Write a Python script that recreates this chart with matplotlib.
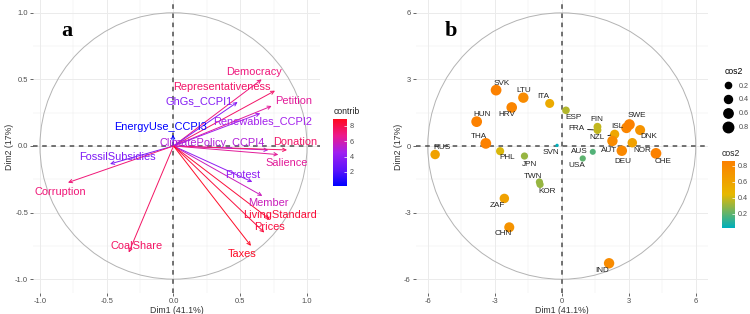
import numpy as np
import matplotlib
matplotlib.use('Agg')
import matplotlib.pyplot as plt
from matplotlib.colors import LinearSegmentedColormap, Normalize
from matplotlib.patches import Circle
from matplotlib.lines import Line2D

plt.rcParams['font.family'] = ['Liberation Sans', 'DejaVu Sans']

# 變數 (panel a)
var_names = ['Democracy', 'Representativeness', 'Petition', 'GhGs_CCPI1', 'Renewables_CCPI2',
             'EnergyUse_CCPI3', 'ClimatePolicy_CCPI4', 'Donation', 'Salience', 'FossilSubsidies',
             'Corruption', 'Protest', 'Member', 'LivingStandard', 'Prices', 'Taxes', 'CoalShare']
var_dim1 = [0.66, 0.76, 0.735, 0.48, 0.65, -0.005, 0.71, 0.85, 0.785, -0.475,
            -0.79, 0.59, 0.665, 0.72, 0.68, 0.58, -0.335]
var_dim2 = [0.50, 0.415, 0.30, 0.33, 0.245, 0.085, -0.03, -0.03, -0.065, -0.135,
            -0.275, -0.27, -0.375, -0.55, -0.65, -0.75, -0.80]
var_contrib = [7.0, 7.4, 6.4, 3.6, 4.6, 0.2, 5.0, 7.4, 6.4, 3.4,
               7.1, 4.0, 5.7, 8.3, 8.2, 8.7, 7.5]

# 國家 (panel b)
countries = ['RUS', 'THA', 'HUN', 'SVK', 'HRV', 'LTU', 'ITA', 'ESP', 'FIN', 'FRA', 'NZL', 'ISL',
             'SWE', 'DNK', 'AUT', 'NOR', 'DEU', 'CHE', 'SVN', 'AUS', 'USA', 'PHL', 'JPN',
             'TWN', 'KOR', 'ZAF', 'CHN', 'IND']
ind_dim1 = [-5.67, -3.40, -3.81, -2.94, -2.24, -1.72, -0.54, 0.19, 1.60, 1.60, 2.37, 2.90,
            3.03, 3.51, 2.27, 3.16, 2.69, 4.22, -0.21, 1.39, 0.94, -2.76, -1.67,
            -1.00, -0.97, -2.57, -2.35, 2.12]
ind_dim2 = [-0.38, 0.12, 1.10, 2.52, 1.74, 2.18, 1.92, 1.61, 0.87, 0.72, 0.53, 0.82,
            0.97, 0.72, 0.23, 0.15, -0.21, -0.33, 0.03, -0.26, -0.56, -0.23, -0.45,
            -1.62, -1.73, -2.36, -3.66, -5.28]
ind_cos2 = [0.62, 0.85, 0.85, 0.85, 0.82, 0.78, 0.55, 0.35, 0.38, 0.38, 0.58, 0.82,
            0.85, 0.72, 0.78, 0.62, 0.80, 0.85, 0.02, 0.18, 0.20, 0.42, 0.30,
            0.30, 0.30, 0.62, 0.72, 0.78]

# 標籤位置
var_lab = {
    'Democracy': (0.60, 0.555), 'Representativeness': (0.36, 0.44), 'Petition': (0.90, 0.34),
    'GhGs_CCPI1': (0.19, 0.34), 'Renewables_CCPI2': (0.67, 0.185), 'EnergyUse_CCPI3': (-0.095, 0.14),
    'ClimatePolicy_CCPI4': (0.29, 0.02), 'Donation': (0.91, 0.03), 'Salience': (0.85, -0.13),
    'FossilSubsidies': (-0.42, -0.085), 'Corruption': (-0.85, -0.345), 'Protest': (0.52, -0.22),
    'Member': (0.71, -0.43), 'LivingStandard': (0.80, -0.52), 'Prices': (0.72, -0.61),
    'Taxes': (0.515, -0.81), 'CoalShare': (-0.28, -0.75)}
ind_lab = {
    'RUS': (-5.37, -0.08), 'THA': (-3.69, 0.45), 'HUN': (-3.56, 1.40), 'SVK': (-2.69, 2.82),
    'HRV': (-2.46, 1.40), 'LTU': (-1.72, 2.49), 'ITA': (-0.84, 2.22), 'ESP': (0.51, 1.27),
    'FIN': (1.55, 1.20), 'FRA': (0.64, 0.77), 'NZL': (1.57, 0.37), 'ISL': (2.49, 0.86),
    'SWE': (3.37, 1.38), 'DNK': (3.91, 0.41), 'AUT': (2.13, -0.19), 'NOR': (3.63, -0.18),
    'DEU': (2.76, -0.68), 'CHE': (4.55, -0.71), 'SVN': (-0.48, -0.30), 'AUS': (0.77, -0.26),
    'USA': (0.67, -0.89), 'PHL': (-2.45, -0.51), 'JPN': (-1.46, -0.81), 'TWN': (-1.30, -1.35),
    'KOR': (-0.67, -2.06), 'ZAF': (-2.87, -2.66), 'CHN': (-2.62, -3.96), 'IND': (1.79, -5.59)}
seg_lab = ['FRA', 'NZL']

W, H = 750, 314
fig = plt.figure(figsize=(7.5, 3.14), dpi=100)
ax1 = fig.add_axes([33 / W, 21 / H, 287 / W, 293 / H])
ax2 = fig.add_axes([415.7 / W, 21 / H, 292.3 / W, 293 / H])

grid_c = '#EBEBEB'
tick_c = '#4D4D4D'


def base_axes(ax, xlim, ylim, major, minor, labels, r):
    ax.set_xlim(*xlim)
    ax.set_ylim(*ylim)
    for v in minor:
        ax.axvline(v, color=grid_c, lw=0.35, zorder=0)
        ax.axhline(v, color=grid_c, lw=0.35, zorder=0)
    for v in major:
        ax.axvline(v, color=grid_c, lw=0.7, zorder=0)
        ax.axhline(v, color=grid_c, lw=0.7, zorder=0)
    ax.set_xticks(major)
    ax.set_yticks(major)
    ax.set_xticklabels(labels)
    ax.set_yticklabels(labels)
    ax.tick_params(labelsize=5.4, colors=tick_c, length=2, width=0.6, pad=1.5)
    for s in ax.spines.values():
        s.set_visible(False)
    ax.add_patch(Circle((0, 0), r, fill=False, ec='#B3B3B3', lw=0.7, zorder=1))
    ax.axhline(0, color='#4D4D4D', lw=1.1, ls=(0, (3, 3)), zorder=2)
    ax.axvline(0, color='#4D4D4D', lw=1.1, ls=(0, (3, 3)), zorder=2)
    ax.set_xlabel('Dim1 (41.1%)', fontsize=6.3, color='#333333', labelpad=1)
    ax.set_ylabel('Dim2 (17%)', fontsize=6.3, color='#333333', labelpad=1)


base_axes(ax1, (-1.052, 1.097), (-1.104, 1.096), [-1, -0.5, 0, 0.5, 1],
          [-0.75, -0.25, 0.25, 0.75], ['-1.0', '-0.5', '0.0', '0.5', '1.0'], 1)
base_axes(ax2, (-6.54, 6.55), (-6.62, 6.58), [-6, -3, 0, 3, 6],
          [-4.5, -1.5, 1.5, 4.5], ['-6', '-3', '0', '3', '6'], 6)

# panel a
cmap1 = LinearSegmentedColormap.from_list(
    'contrib', [(0, '#0000FF'), (0.25, '#6015FA'), (0.5, '#A020F0'),
                (0.75, '#EC1A8C'), (1, '#FF0A1E')])
norm1 = Normalize(0.17, 8.87)
for name, x, y, c in zip(var_names, var_dim1, var_dim2, var_contrib):
    col = cmap1(norm1(c))
    ax1.annotate('', xy=(x, y), xytext=(0, 0),
                 arrowprops=dict(arrowstyle='->', color=col, lw=0.7, shrinkA=0, shrinkB=0,
                                 mutation_scale=6), zorder=3)
    lx, ly = var_lab[name]
    ax1.text(lx, ly, name, color=col, fontsize=7.9, ha='center', va='center', zorder=4)

ax1.text(-0.8, 0.86, 'a', fontsize=16, fontweight='bold', family='Liberation Serif',
         ha='center', va='center')

cax1 = fig.add_axes([333.3 / W, 1 - 186 / H, 13.4 / W, 67 / H])
cb1 = fig.colorbar(plt.cm.ScalarMappable(norm=norm1, cmap=cmap1), cax=cax1, ticks=[2, 4, 6, 8])
cb1.outline.set_visible(False)
cb1.ax.tick_params(labelsize=5.2, colors='white', labelcolor=tick_c, direction='in',
                   length=2.5, width=0.5, pad=2)
fig.text(333.3 / W, 1 - 111.7 / H, 'contrib', fontsize=6.2, color='#222222', va='center')

# panel b
cmap2 = LinearSegmentedColormap.from_list('cos2', ['#00AFBB', '#E7B800', '#FC8000'])
norm2 = Normalize(0.03, 0.86)


def dot_size(c):
    d = 2.0 + 9.0 * np.sqrt(np.asarray(c) / 0.9)
    return (d * 0.72) ** 2


ax2.scatter(ind_dim1, ind_dim2, s=dot_size(ind_cos2), c=ind_cos2, cmap=cmap2, norm=norm2,
            edgecolors='none', zorder=3)
for name, x, y in zip(countries, ind_dim1, ind_dim2):
    lx, ly = ind_lab[name]
    if name in seg_lab:
        ax2.annotate(name, xy=(x, y), xytext=(lx, ly), fontsize=5.9, color='#222222',
                     ha='center', va='center', zorder=4,
                     arrowprops=dict(arrowstyle='-', color='black', lw=0.6, shrinkA=0.5, shrinkB=3))
    else:
        ax2.text(lx, ly, name, fontsize=5.9, color='#222222', ha='center', va='center', zorder=4)

ax2.text(-4.95, 5.2, 'b', fontsize=16, fontweight='bold', family='Liberation Serif',
         ha='center', va='center')

leg_vals = [0.2, 0.4, 0.6, 0.8]
handles = [Line2D([], [], ls='', marker='o', color='black',
                  markersize=float(np.sqrt(dot_size(v)))) for v in leg_vals]
leg = fig.legend(handles, [str(v) for v in leg_vals], title='cos2', loc='upper left',
                 bbox_to_anchor=(721 / W, 1 - 63 / H), frameon=False, fontsize=5.2,
                 title_fontsize=6.2, labelspacing=0.95, handletextpad=0.9, borderpad=0,
                 handlelength=1.0)
leg._legend_box.align = 'left'
for t in leg.get_texts():
    t.set_color(tick_c)

cax2 = fig.add_axes([721.7 / W, 1 - 227.7 / H, 13.4 / W, 67 / H])
cb2 = fig.colorbar(plt.cm.ScalarMappable(norm=norm2, cmap=cmap2), cax=cax2,
                   ticks=[0.2, 0.4, 0.6, 0.8])
cb2.outline.set_visible(False)
cb2.ax.tick_params(labelsize=5.2, colors='white', labelcolor=tick_c, direction='in',
                   length=2.5, width=0.5, pad=2)
fig.text(721.7 / W, 1 - 153 / H, 'cos2', fontsize=6.2, color='#222222', va='center')

fig.savefig('out.png', dpi=100)
